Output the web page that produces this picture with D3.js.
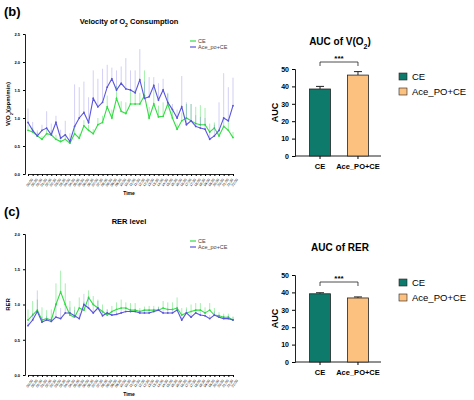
<!DOCTYPE html><html><head><meta charset="utf-8"><script src="https://cdn.jsdelivr.net/npm/d3@7"></script>
<style>body{margin:0;background:#fff}text{font-family:Arial,"Liberation Sans",sans-serif}</style></head><body><svg id="c" width="474" height="400"></svg>
<script>
const timeLabels = d3.range(45).map(i => `${String(Math.floor(i/2)).padStart(2,"0")}:${i%2?"30":"00"}`);
const vo2CE = [0.78,0.75,0.68,0.62,0.72,0.70,0.62,0.58,0.62,0.55,0.72,0.64,0.86,0.78,0.72,0.88,0.92,1.2,1.0,1.35,1.12,1.08,1.25,1.25,1.25,1.4,1.0,1.25,1.02,1.03,1.25,1.0,0.8,0.95,1.0,0.95,0.9,0.88,0.88,0.75,0.82,0.68,0.85,0.78,0.65];
const vo2CEerr = [0.1,0.08,0.06,0.06,0.08,0.08,0.08,0.06,0.08,0.06,0.1,0.08,0.1,0.1,0.08,0.12,0.12,0.2,0.15,0.22,0.18,0.2,0.25,0.25,0.2,0.45,0.2,0.3,0.2,0.25,0.2,0.15,0.1,0.15,0.25,0.3,0.3,0.35,0.3,0.15,0.1,0.1,0.15,0.15,0.1];
const vo2Ace = [0.92,0.78,0.68,0.78,0.82,0.70,0.92,0.64,0.70,0.58,0.85,1.0,1.1,0.92,1.35,1.2,1.28,1.55,1.7,1.5,1.62,1.52,1.5,1.45,1.68,1.35,1.38,1.58,1.32,1.5,1.28,1.15,1.0,1.2,0.88,0.95,0.85,0.82,0.8,0.62,0.68,0.78,1.0,0.95,1.22];
const vo2AceErr = [0.25,0.15,0.1,0.1,0.3,0.2,0.12,0.15,0.25,0.15,0.75,0.55,0.55,0.45,0.5,0.5,0.6,0.4,0.2,0.35,0.3,0.55,0.35,0.4,0.55,0.3,0.35,0.15,0.3,0.2,0.15,0.1,0.15,0.55,0.4,0.3,0.2,0.2,0.2,0.15,0.2,0.5,0.8,0.6,0.5];
const rerCE = [0.78,0.85,0.92,0.78,0.80,0.78,1.0,1.18,1.0,0.85,0.82,0.95,0.92,1.1,1.0,0.95,0.9,0.85,0.9,0.93,0.95,0.95,0.92,0.92,0.9,0.92,0.92,0.92,0.92,0.95,0.93,0.93,0.95,0.85,0.88,0.9,0.92,0.92,0.88,0.92,0.85,0.84,0.82,0.82,0.78];
const rerCEerr = [0.15,0.2,0.15,0.18,0.12,0.15,0.3,0.3,0.3,0.2,0.15,0.15,0.12,0.1,0.12,0.12,0.1,0.08,0.08,0.1,0.12,0.08,0.1,0.1,0.05,0.05,0.06,0.06,0.05,0.1,0.1,0.1,0.15,0.1,0.08,0.1,0.1,0.1,0.08,0.1,0.1,0.05,0.05,0.05,0.05];
const rerAce = [0.7,0.78,0.9,0.75,0.78,0.76,0.82,0.8,0.88,0.88,0.84,0.8,1.0,0.95,0.88,0.95,0.84,0.88,0.85,0.86,0.88,0.9,0.9,0.9,0.88,0.88,0.88,0.9,0.92,0.88,0.88,0.88,0.92,0.78,0.88,0.82,0.88,0.85,0.84,0.8,0.85,0.82,0.8,0.8,0.78];
const rerAceErr = [0.05,0.1,0.3,0.08,0.06,0.06,0.2,0.15,0.1,0.08,0.08,0.08,0.15,0.15,0.1,0.1,0.06,0.05,0.05,0.05,0.05,0.05,0.04,0.04,0.04,0.04,0.04,0.04,0.04,0.04,0.04,0.04,0.05,0.05,0.05,0.05,0.05,0.05,0.05,0.05,0.05,0.04,0.04,0.04,0.04];
const groups = ["CE","Ace_PO+CE"];
const aucVO2 = [38.5,46.5], aucVO2err = [1.5,2];
const aucRER = [39.2,36.8], aucRERerr = [0.6,0.6];
const GREEN="#33dd44", PURPLE="#5a55dd", TEAL="#0e7a6c", PEACH="#fcc17f";
const svg = d3.select("#c");

function panel(letter, ly, title, ylab, dom, ticks, x0,x1,yTop,yBot, s1,e1,s2,e2){
  svg.append("text").attr("x",4).attr("y",ly).attr("font-size",13).attr("font-weight","bold").text(letter);
  const g=svg.append("g");
  const x=d3.scalePoint().domain(timeLabels).range([x0+3,x1]);
  const y=d3.scaleLinear().domain(dom).range([yBot,yTop]);
  const ya=g.append("g").attr("transform",`translate(${x0},0)`).call(d3.axisLeft(y).tickValues(ticks).tickFormat(d3.format(".1f")).tickSize(2));
  ya.selectAll("text").attr("font-size",4).attr("font-weight","bold");
  const xa=g.append("g").attr("transform",`translate(0,${yBot})`).call(d3.axisBottom(x).tickSize(2));
  xa.selectAll("text").attr("font-size",3.5).attr("transform","rotate(-55)").attr("text-anchor","end").attr("dx","-2").attr("dy","2");
  g.selectAll(".domain").attr("stroke","#222");
  svg.append("text").attr("x",(x0+x1)/2).attr("y",yTop-10).attr("text-anchor","middle").attr("font-size",7.5).attr("font-weight","bold").html(title);
  svg.append("text").attr("transform",`translate(${x0-15},${(yTop+yBot)/2}) rotate(-90)`).attr("text-anchor","middle").attr("font-size",6).attr("font-weight","bold").html(ylab);
  svg.append("text").attr("x",(x0+x1)/2).attr("y",yBot+21).attr("text-anchor","middle").attr("font-size",5).attr("font-weight","bold").text("Time");
  [[s1,e1,GREEN,0.55],[s2,e2,PURPLE,0.35]].forEach(([s,e,c,o])=>{
    g.append("g").selectAll("line").data(s).join("line").attr("x1",(d,i)=>x(timeLabels[i])).attr("x2",(d,i)=>x(timeLabels[i]))
      .attr("y1",d=>y(d)).attr("y2",(d,i)=>y(d+e[i])).attr("stroke",c).attr("stroke-opacity",o).attr("stroke-width",0.8);
    g.append("path").datum(s).attr("fill","none").attr("stroke",c).attr("stroke-width",1.1)
      .attr("d",d3.line().x((d,i)=>x(timeLabels[i])).y(d=>y(d)));
    g.append("g").selectAll("circle").data(s).join("circle").attr("cx",(d,i)=>x(timeLabels[i])).attr("cy",d=>y(d)).attr("r",0.9).attr("fill",c);
  });
  [["CE",GREEN],["Ace_po+CE",PURPLE]].forEach(([t,c],i)=>{
    const yy=yTop+7+i*6;
    svg.append("line").attr("x1",190).attr("x2",196).attr("y1",yy).attr("y2",yy).attr("stroke",c).attr("stroke-width",1.2);
    svg.append("text").attr("x",198).attr("y",yy+2).attr("font-size",5.5).attr("fill","#444").text(t);
  });
}
panel("(b)",16,"Velocity of O<tspan baseline-shift='sub' font-size='5'>2</tspan> Consumption","V(O<tspan baseline-shift='sub' font-size='4'>2</tspan>)(ppm/min)",[0,2.5],[0,0.5,1,1.5,2,2.5],25,233,34,174,vo2CE,vo2CEerr,vo2Ace,vo2AceErr);
panel("(c)",216,"RER level","RER",[0,2],[0,0.5,1,1.5,2],25,233,234,375,rerCE,rerCEerr,rerAce,rerAceErr);

function auc(title,ty,vals,errs,yTop,yBot,bracketY){
  const x=d3.scaleBand().domain(groups).range([302,376]).paddingInner(0.45).paddingOuter(0.2);
  const y=d3.scaleLinear().domain([0,50]).range([yBot,yTop]);
  svg.append("text").attr("x",340).attr("y",ty).attr("text-anchor","middle").attr("font-size",10).attr("font-weight","bold").html(title);
  const ya=svg.append("g").attr("transform","translate(295,0)").call(d3.axisLeft(y).ticks(5).tickSize(3));
  ya.selectAll("text").attr("font-size",7).attr("font-weight","bold");
  const xa=svg.append("g").attr("transform",`translate(0,${yBot})`).call(d3.axisBottom(x).tickSize(3));
  xa.select(".domain").attr("d","M295,0H381");
  xa.selectAll("text").attr("font-size",7.5).attr("font-weight","bold").attr("dy","0.9em");
  svg.selectAll(".domain").attr("stroke","#222");
  svg.append("text").attr("transform",`translate(278,${(yTop+yBot)/2}) rotate(-90)`).attr("text-anchor","middle").attr("font-size",9).attr("font-weight","bold").text("AUC");
  const cols=[TEAL,PEACH];
  groups.forEach((gname,i)=>{
    const cx=x(gname)+x.bandwidth()/2;
    svg.append("line").attr("x1",cx).attr("x2",cx).attr("y1",y(vals[i])).attr("y2",y(vals[i]+errs[i])).attr("stroke","#222");
    svg.append("line").attr("x1",cx-4).attr("x2",cx+4).attr("y1",y(vals[i]+errs[i])).attr("y2",y(vals[i]+errs[i])).attr("stroke","#222");
    svg.append("rect").attr("x",x(gname)).attr("width",x.bandwidth()).attr("y",y(vals[i])).attr("height",yBot-y(vals[i])).attr("fill",cols[i]).attr("stroke","#222").attr("stroke-width",0.8);
  });
  const c1=x(groups[0])+x.bandwidth()/2,c2=x(groups[1])+x.bandwidth()/2;
  svg.append("path").attr("d",`M${c1},${bracketY+4}V${bracketY}H${c2}V${bracketY+4}`).attr("fill","none").attr("stroke","#222").attr("stroke-width",0.8);
  svg.append("text").attr("x",(c1+c2)/2).attr("y",bracketY-1).attr("text-anchor","middle").attr("font-size",8).attr("font-weight","bold").text("***");
  groups.forEach((gname,i)=>{
    const yy=yTop+8+i*15;
    svg.append("rect").attr("x",399).attr("y",yy-4).attr("width",8).attr("height",7).attr("fill",cols[i]).attr("stroke","#222").attr("stroke-width",0.6);
    svg.append("text").attr("x",412).attr("y",yy+3).attr("font-size",9.5).text(gname);
  });
}
auc("AUC of V(O<tspan baseline-shift='sub' font-size='7'>2</tspan>)",45,aucVO2,aucVO2err,69,156,62);
auc("AUC of RER",251,aucRER,aucRERerr,275,362,282);
</script></body></html>
